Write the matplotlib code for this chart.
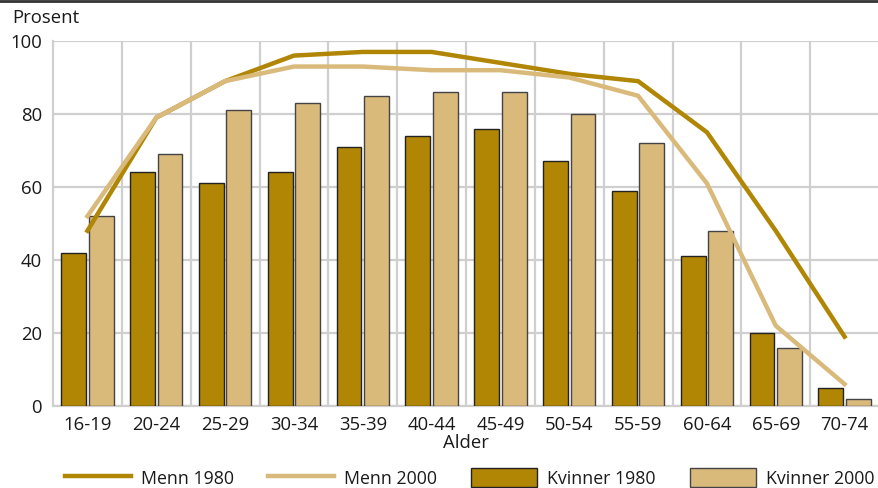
import numpy as np
import matplotlib
matplotlib.use('Agg')
from matplotlib import pyplot as plt
from matplotlib.lines import Line2D

plt.rcParams['font.family'] = ['Open Sans', 'DejaVu Sans']
plt.rcParams['font.size'] = 13.3

ages = ['16-19', '20-24', '25-29', '30-34', '35-39', '40-44',
        '45-49', '50-54', '55-59', '60-64', '65-69', '70-74']
kvinner_1980 = [42, 64, 61, 64, 71, 74, 76, 67, 59, 41, 20, 5]
kvinner_2000 = [52, 69, 81, 83, 85, 86, 86, 80, 72, 48, 16, 2]
menn_1980 = [48, 79, 89, 96, 97, 97, 94, 91, 89, 75, 48, 19]
menn_2000 = [52, 79, 89, 93, 93, 92, 92, 90, 85, 61, 22, 6]

dark = '#b08604'
light = '#d9ba7b'
grid_col = '#cfcfcf'
txt = '#1a1a1a'

fig = plt.figure(figsize=(8.79, 4.88), dpi=100)
ax = fig.add_axes([0.0603, 0.168, 0.9397, 0.748])

x = np.arange(len(ages))
w = 0.36
ax.plot(x, menn_1980, color=dark, linewidth=3.2, label='Menn 1980', zorder=4)
ax.plot(x, menn_2000, color=light, linewidth=3.2, label='Menn 2000', zorder=4)
ax.bar(x - 0.2, kvinner_1980, w, color=dark, edgecolor='#222222', linewidth=1,
       label='Kvinner 1980', zorder=3)
ax.bar(x + 0.2, kvinner_2000, w, color=light, edgecolor='#444444', linewidth=1,
       label='Kvinner 2000', zorder=3)

ax.set_xlim(-0.5, 11.5)
ax.set_ylim(0, 100)
ax.set_yticks(range(0, 101, 20))
ax.set_xticks(x)
ax.set_xticklabels(ages)
ax.set_xticks(np.arange(0.5, 11, 1), minor=True)
ax.tick_params(axis='both', which='both', length=0, labelcolor=txt)
ax.tick_params(axis='y', pad=8)
ax.tick_params(axis='x', pad=7)

ax.grid(axis='y', which='major', color=grid_col, linewidth=1.6, zorder=0)
ax.grid(axis='x', which='minor', color=grid_col, linewidth=1.6, zorder=0)
ax.grid(axis='x', which='major', visible=False)
ax.set_axisbelow(True)
for side in ['top', 'right']:
    ax.spines[side].set_visible(False)
for side in ['left', 'bottom']:
    ax.spines[side].set_color(grid_col)
    ax.spines[side].set_linewidth(1.6)

ax.set_xlabel('Alder', color=txt, labelpad=0)
fig.text(12 / 879, 1 - 18 / 488, 'Prosent', ha='left', va='center', color=txt)

# dark rule at the very top
fig.add_artist(Line2D([0, 1], [0.998, 0.998], color='#333333', linewidth=2))

handles, labels = ax.get_legend_handles_labels()
fig.legend(handles, labels,
           loc='center left', bbox_to_anchor=(65 / 879, 1 - 478 / 488),
           ncol=4, frameon=False, borderpad=0, borderaxespad=0,
           fontsize=12.8, handlelength=3.7, handleheight=1.2, handletextpad=0.55,
           columnspacing=1.95, labelcolor=txt)

fig.savefig('out.png', dpi=100)
